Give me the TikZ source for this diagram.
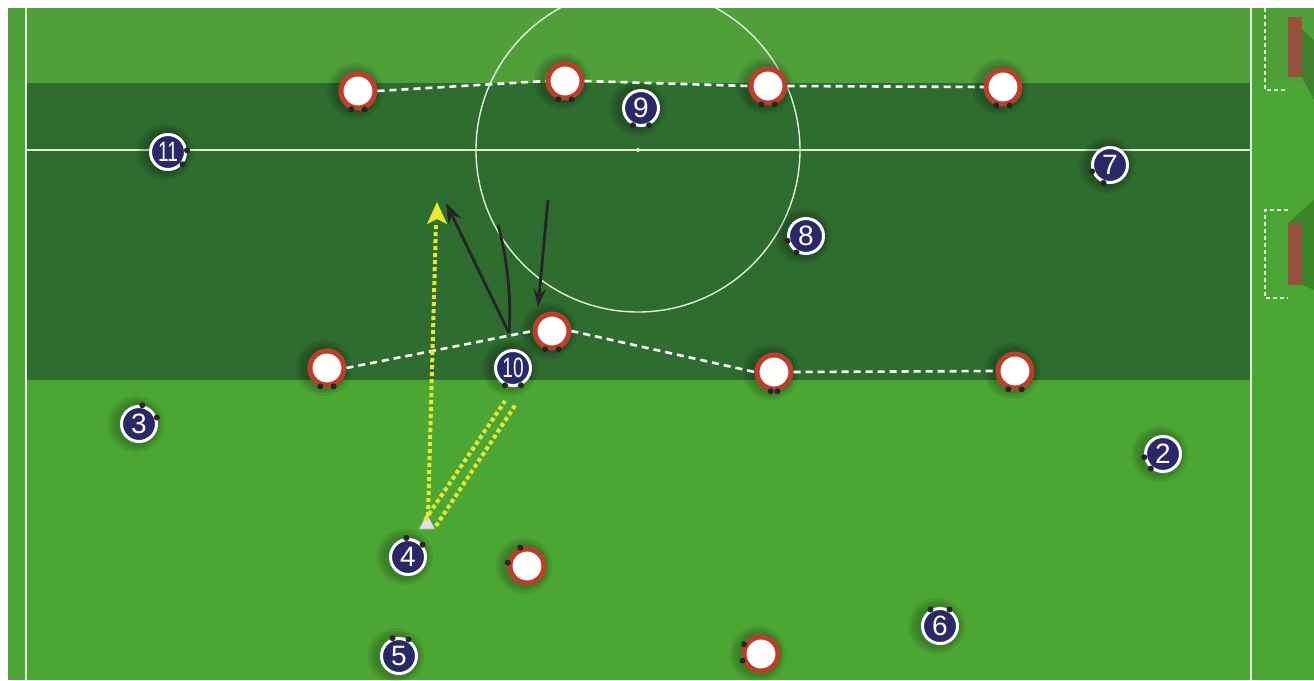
\documentclass[tikz,border=0pt]{standalone}
\usepackage{fontspec}
\newfontfamily\numfont{Liberation Sans}
\usetikzlibrary{arrows.meta}
\definecolor{grassL}{RGB}{80,160,58}
\definecolor{grassB}{RGB}{76,166,52}
\definecolor{grassD}{RGB}{46,108,48}
\definecolor{navy}{RGB}{42,40,102}
\definecolor{ringred}{RGB}{190,62,44}
\definecolor{yel}{RGB}{232,232,50}
\definecolor{goalbrown}{RGB}{150,82,60}
\definecolor{pline}{RGB}{225,240,220}
\tikzset{
  mate/.style={circle, fill=navy, draw=white, line width=3pt, minimum size=35pt, inner sep=0pt, text=white, font=\numfont\fontsize{28}{28}\selectfont},
  opp/.style={circle, fill=white, draw=ringred, line width=5pt, minimum size=34pt, inner sep=0pt},
  shad/.style={fill=black, opacity=0.08},
  defline/.style={white, line width=2.6pt, dash pattern=on 7pt off 5pt},
  ydots/.style={yel, line width=4pt, dash pattern=on 4pt off 3pt},
  run/.style={black!85, line width=2.8pt},
  gbox/.style={pline, line width=1.5pt, dash pattern=on 4pt off 3pt}
}
\newcommand\pfeet[3]{\fill[black!85] (#1.#2) circle (3pt); \fill[black!85] (#1.#3) circle (3pt);}
\begin{document}
\begin{tikzpicture}[x=1pt,y=-1pt]
\useasboundingbox (0,0) rectangle (1314,680);
\fill[white] (0,0) rectangle (1314,680);
\fill[grassB] (8,8) rectangle (1314,680);
\fill[grassL] (8,8) rectangle (1314,83);
\fill[grassD] (27,83) rectangle (1250,380);
% pitch lines
\draw[pline, line width=2pt] (26,8) -- (26,680);
\draw[pline, line width=2pt] (1251,8) -- (1251,680);
\draw[pline, line width=1.4pt] (26,150) -- (1251,150);
\begin{scope}
\clip (8,8) rectangle (1314,680);
\draw[pline, line width=1.4pt] (638,150) circle (162);
\end{scope}
\fill[pline] (638,150) circle (2);
% goals
\fill[black, opacity=0.2] (1288,17) -- (1314,40) -- (1314,100) -- (1302,77) -- cycle;
\fill[black, opacity=0.2] (1288,223) -- (1314,200) -- (1314,290) -- (1302,285) -- cycle;
\draw[gbox] (1265,8) -- (1265,90) -- (1288,90);
\draw[gbox] (1288,210) -- (1265,210) -- (1265,298) -- (1288,298);
\fill[goalbrown] (1288,17) rectangle (1302,77);
\fill[goalbrown] (1288,223) rectangle (1302,285);
% soft shadows
\foreach \x/\y in {358/91,565/81,768/86,1003/87,327/368,552/331,774/372,1015/371,527/566,761/654,168/152,641/108,1110/165,806/236,513/368,139/424,1163/454,408/557,399/656,940/626}{
  \fill[shad] (\x-3,\y) circle (28);
  \fill[shad] (\x-3,\y) circle (25);
  \fill[shad] (\x-2,\y) circle (22.5);
}
% opponents
\node[opp] (o1) at (358,91) {};
\node[opp] (o2) at (565,81) {};
\node[opp] (o3) at (768,86) {};
\node[opp] (o4) at (1003,87) {};
\node[opp] (o5) at (327,368) {};
\node[opp] (o6) at (552,331) {};
\node[opp] (o7) at (774,372) {};
\node[opp] (o8) at (1015,371) {};
\node[opp] (o9) at (527,566) {};
\node[opp] (o10) at (761,654) {};
% defensive lines
\draw[defline] (o1.east) -- (o2.west);
\draw[defline] (o2.east) -- (o3.west);
\draw[defline] (o3.east) -- (o4.west);
\draw[defline] (o5.east) -- (o6.west);
\draw[defline] (o6.east) -- (o7.west);
\draw[defline] (o7.east) -- (o8.west);
\pfeet{o1}{-110}{-70}
\pfeet{o2}{-110}{-70}
\pfeet{o3}{-110}{-70}
\pfeet{o4}{-110}{-70}
\pfeet{o5}{-110}{-70}
\pfeet{o6}{-110}{-70}
\pfeet{o7}{-100}{-80}
\pfeet{o8}{-110}{-70}
\pfeet{o9}{110}{170}
\pfeet{o10}{150}{-160}
% team
\node[mate] (p11) at (168,152) {\scalebox{0.68}[1]{11}};
\node[mate] (p9) at (641,108) {9};
\node[mate] (p7) at (1110,165) {7};
\node[mate] (p8) at (806,236) {8};
\node[mate] (p10) at (513,368) {\scalebox{0.68}[1]{10}};
\node[mate] (p3) at (139,424) {3};
\node[mate] (p2) at (1163,454) {2};
\node[mate] (p4) at (408,557) {4};
\node[mate] (p5) at (399,656) {5};
\node[mate] (p6) at (940,626) {6};
\pfeet{p11}{5}{-40}
\pfeet{p9}{-115}{-65}
\pfeet{p7}{-110}{-160}
\pfeet{p8}{-120}{-165}
\pfeet{p10}{-115}{-65}
\pfeet{p3}{80}{20}
\pfeet{p2}{-170}{-130}
\pfeet{p4}{95}{40}
\pfeet{p5}{110}{60}
\pfeet{p6}{120}{60}
% ball
\node[inner sep=0pt, minimum size=0pt] (ball) at (427,524) {};
\fill[gray!25, draw=gray!70, line width=0.6pt] (427,514) -- (435,529) -- (419,529) -- cycle;
% passes
\coordinate (yt) at (437,202);
\coordinate (d1a) at (425,520);
\coordinate (d1b) at (505,401);
\coordinate (d2a) at (436,526);
\coordinate (d2b) at (516,404);
\draw[ydots] (d1a) -- (d1b);
\draw[ydots] (d2a) -- (d2b);
\draw[ydots] (428,516) -- (436,222);
\fill[yel] (yt) -- (447,224) -- (437,219) -- (427,224) -- cycle;
% runs
\coordinate (r0) at (509,333);
\coordinate (r1) at (446,203);
\coordinate (r2) at (498,225);
\coordinate (r3s) at (548,200);
\coordinate (r3) at (538,307);
\draw[run, -{Stealth[length=20pt, width=14pt]}] (r0) -- (r1);
\draw[run] (r0) .. controls (512,290) and (505,250) .. (r2);
\draw[run, -{Stealth[length=18pt, width=12pt]}] (r3s) -- (r3);
\end{tikzpicture}
\end{document}
